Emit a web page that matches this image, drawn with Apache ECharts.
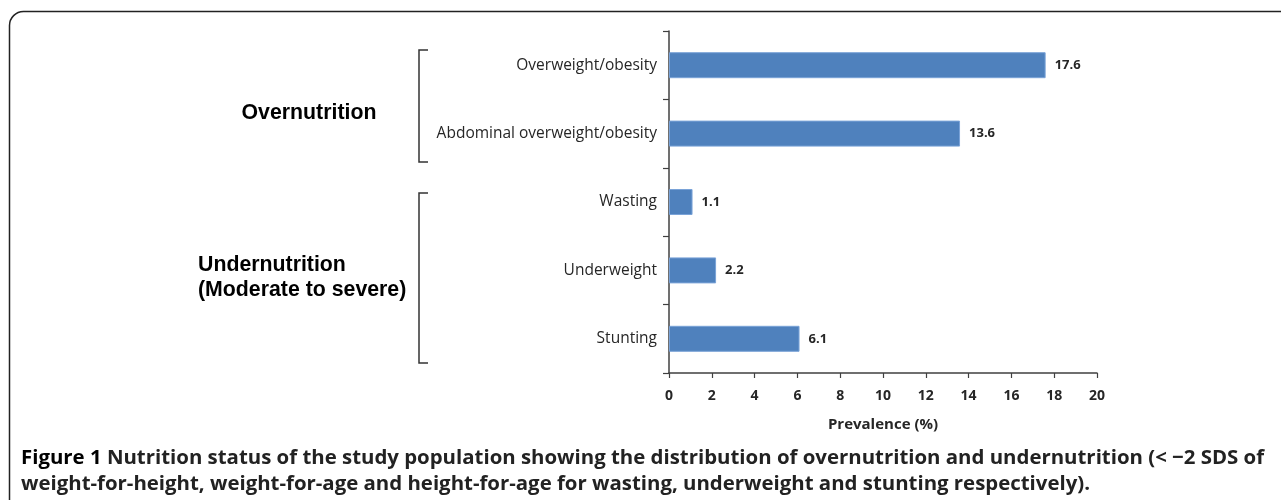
<!DOCTYPE html>
<html>
<head>
<meta charset="utf-8">
<script src="https://cdn.jsdelivr.net/npm/echarts@6/dist/echarts.min.js"></script>
<style>
html,body{margin:0;padding:0;background:#fff;}
#chart{width:1281px;height:500px;}
</style>
</head>
<body>
<div id="chart"></div>
<script>
const categories = ['Overweight/obesity', 'Abdominal overweight/obesity', 'Wasting', 'Underweight', 'Stunting'];
const prevalence = [17.6, 13.6, 1.1, 2.2, 6.1];
const xTicks = { min: 0, max: 20, interval: 2 };
const groupLabels = ['Overnutrition', 'Undernutrition\n(Moderate to severe)'];
const captionBold = 'Figure 1';
const captionLine1 = ' Nutrition status of the study population showing the distribution of overnutrition and undernutrition (< \u22122 SDS of';
const captionLine2 = 'weight-for-height, weight-for-age and height-for-age for wasting, underweight and stunting respectively).';

const chart = echarts.init(document.getElementById('chart'));
const axisColor = '#404040';
const option = {
  animation: false,
  grid: { left: 669, right: 184, top: 31, bottom: 127 },
  xAxis: {
    type: 'value',
    min: xTicks.min, max: xTicks.max, interval: xTicks.interval,
    name: 'Prevalence (%)',
    nameLocation: 'middle',
    nameGap: 44,
    nameTextStyle: { fontFamily: 'Open Sans', fontWeight: 'bold', fontSize: 15, color: '#262626' },
    axisLine: { show: true, lineStyle: { color: axisColor, width: 1.5 } },
    axisTick: { show: true, length: 5, lineStyle: { color: axisColor, width: 1.2 } },
    axisLabel: { fontFamily: 'Open Sans', fontWeight: 'bold', fontSize: 14, color: '#262626', margin: 16 },
    splitLine: { show: false }
  },
  yAxis: {
    type: 'category',
    data: categories,
    inverse: true,
    axisLine: { show: true, lineStyle: { color: axisColor, width: 1.5 } },
    axisTick: { show: true, length: 6, lineStyle: { color: axisColor, width: 1.2 } },
    axisLabel: { fontFamily: 'Open Sans', fontSize: 15.5, color: '#262626', margin: 12 }
  },
  series: [{
    type: 'bar',
    data: prevalence,
    barWidth: 26,
    itemStyle: { color: '#4F81BD', borderColor: '#7aa3d8', borderWidth: 1 },
    label: {
      show: true, position: 'right', distance: 9,
      fontFamily: 'Open Sans', fontWeight: 'bold', fontSize: 13, color: '#262626'
    }
  }],
  graphic: [
    { type: 'rect', shape: { x: 9.5, y: 11.5, width: 1300, height: 520, r: 14 },
      style: { fill: 'none', stroke: '#222', lineWidth: 1.5 }, silent: true },
    { type: 'polyline', shape: { points: [[428, 50], [419, 50], [419, 162], [428, 162]] },
      style: { fill: 'none', stroke: '#333', lineWidth: 1.5 } },
    { type: 'polyline', shape: { points: [[428, 193], [419, 193], [419, 363], [428, 363]] },
      style: { fill: 'none', stroke: '#333', lineWidth: 1.5 } },
    { type: 'text', x: 309, y: 113, style: { text: groupLabels[0], fontFamily: 'Liberation Sans', fontWeight: 'bold', fontSize: 21.3, fill: '#000', align: 'center', verticalAlign: 'middle' } },
    { type: 'text', x: 198, y: 278, style: { text: groupLabels[1], fontFamily: 'Liberation Sans', fontWeight: 'bold', fontSize: 21.3, lineHeight: 25, fill: '#000', align: 'left', verticalAlign: 'middle' } },
    { type: 'text', x: 21, y: 471, style: {
        text: '{b|' + captionBold + '}{n|' + captionLine1 + '}\n{n|' + captionLine2 + '}',
        rich: {
          b: { fontFamily: 'Open Sans', fontWeight: 'bold', fontSize: 20.4, fill: '#000', lineHeight: 26 },
          n: { fontFamily: 'Open Sans', fontWeight: 'bold', fontSize: 20.4, fill: '#222', lineHeight: 26 }
        },
        verticalAlign: 'middle', align: 'left' } }
  ]
};
chart.setOption(option);
</script>
</body>
</html>
